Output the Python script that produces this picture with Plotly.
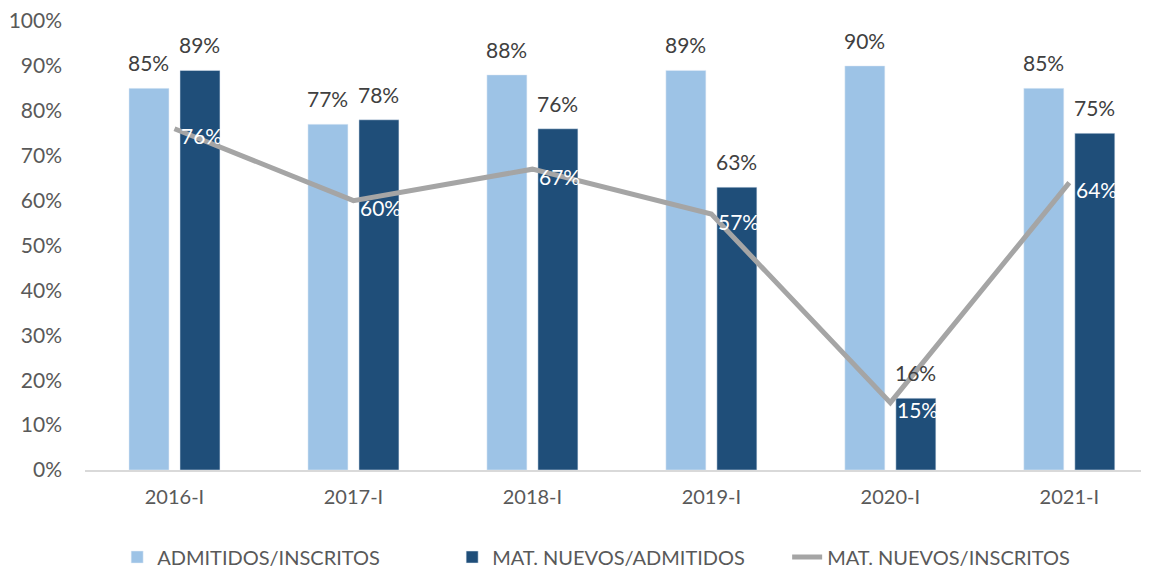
import plotly.graph_objects as go

# Data
periodos = ['2016-I', '2017-I', '2018-I', '2019-I', '2020-I', '2021-I']
admitidos_inscritos = [0.85, 0.77, 0.88, 0.89, 0.90, 0.85]
nuevos_admitidos = [0.89, 0.78, 0.76, 0.63, 0.16, 0.75]
nuevos_inscritos = [0.76, 0.60, 0.67, 0.57, 0.15, 0.64]

font_family = 'Lato, "Open Sans", sans-serif'
text_gray = '#404040'
axis_gray = '#595959'

fig = go.Figure()

fig.add_trace(go.Bar(x=periodos, y=admitidos_inscritos, name='ADMITIDOS/INSCRITOS',
                     marker_color='#9DC3E6'))
fig.add_trace(go.Bar(x=periodos, y=nuevos_admitidos, name='MAT. NUEVOS/ADMITIDOS',
                     marker_color='#1F4E79'))
fig.add_trace(go.Scatter(x=periodos, y=nuevos_inscritos, name='MAT. NUEVOS/INSCRITOS',
                         mode='lines', line=dict(color='#A5A5A5', width=5)))

# data labels (bars above, line labels in white to the right of the points)
for p, a, n, l in zip(periodos, admitidos_inscritos, nuevos_admitidos, nuevos_inscritos):
    fig.add_annotation(x=p, y=a, text=f'{a:.0%}', showarrow=False, xshift=-25.5,
                       yanchor='bottom', yshift=11, font=dict(size=21, color=text_gray))
    fig.add_annotation(x=p, y=n, text=f'{n:.0%}', showarrow=False, xshift=25.5,
                       yanchor='bottom', yshift=11, font=dict(size=21, color=text_gray))
    fig.add_annotation(x=p, y=l, text=f'{l:.0%}', showarrow=False, xshift=5,
                       xanchor='left', yshift=-7, font=dict(size=21, color='white'))

# the page body adds an 8px margin, so margins are reduced by 8
fig.update_layout(
    width=1149, height=571,
    margin=dict(l=77, r=0, t=13, b=109),
    plot_bgcolor='white', paper_bgcolor='white',
    font=dict(family=font_family, size=20, color=axis_gray),
    barmode='group', bargap=0.43, bargroupgap=0.216,
    showlegend=True,
    legend=dict(orientation='h', xref='container', x=0.095, xanchor='left',
                yref='container', y=0.0385, yanchor='middle',
                entrywidth=290, font=dict(size=20, color=axis_gray),
                traceorder='normal'),
)
fig.update_xaxes(
    range=[-0.5, 5.49], showline=True, linecolor='#D9D9D9', linewidth=2,
    ticks='', ticklabelstandoff=8, tickfont=dict(size=20, color=axis_gray),
    showgrid=False, automargin=False,
)
fig.update_yaxes(
    range=[0, 1.0], dtick=0.1, tickformat='.0%', showgrid=False,
    zeroline=False, showline=False, ticks='', ticklabelstandoff=22,
    ticklabeloverflow='allow',
    tickfont=dict(size=21, color=axis_gray), automargin=False,
)

fig.write_html('out.html')
